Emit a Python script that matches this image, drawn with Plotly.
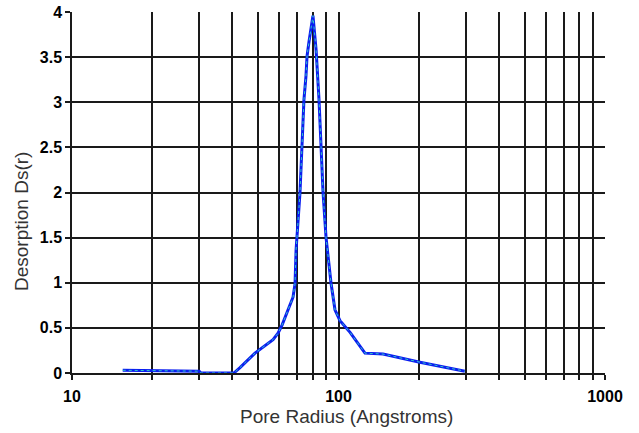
import plotly.graph_objects as go

pore_radius = [15.5, 30, 30.5, 40.5, 42.7, 48.6, 56.8, 59.3, 61.4, 67.5, 68.7, 69.3,
               71.7, 73.0, 74.2, 75.5, 76.2, 77.5, 80.2, 82.4, 83.0, 84.5, 87.5, 89.8,
               93.7, 97, 101.3, 110.5, 125.7, 146.9, 202, 298]
desorption = [0.03, 0.02, 0.0, 0.0, 0.06, 0.22, 0.37, 0.44, 0.53, 0.84, 0.99, 1.36,
              2.0, 2.5, 3.03, 3.29, 3.51, 3.67, 3.96, 3.58, 3.4, 3.03, 2.0, 1.5,
              1.0, 0.7, 0.58, 0.45, 0.22, 0.21, 0.12, 0.02]

x_tick_vals = [10, 20, 30, 40, 50, 60, 70, 80, 90, 100, 200, 300, 400, 500, 600, 700, 800, 900, 1000]
x_tick_text = ["10", "", "", "", "", "", "", "", "", "100", "", "", "", "", "", "", "", "", "1000"]
y_tick_vals = [0, 0.5, 1, 1.5, 2, 2.5, 3, 3.5, 4]
y_tick_text = ["0", "0.5", "1", "1.5", "2", "2.5", "3", "3.5", "4"]

fig = go.Figure()
fig.add_trace(go.Scatter(x=pore_radius, y=desorption, mode="lines",
                         line=dict(color="#0a1ef0", width=3), hoverinfo="skip"))
fig.add_trace(go.Scatter(x=pore_radius, y=desorption, mode="lines",
                         line=dict(color="#30c8c8", width=1, dash="dot"), hoverinfo="skip"))

bold = lambda s: f"<b>{s}</b>" if s else ""
tick_font = dict(family="Liberation Sans, Arial", size=16, color="black")
fig.update_layout(
    width=639, height=433,
    margin=dict(l=72, r=34, t=12, b=60, autoexpand=False),
    paper_bgcolor="white", plot_bgcolor="white",
    showlegend=False,
    xaxis=dict(type="log", range=[1, 3], tickvals=x_tick_vals,
               ticktext=[bold(t) for t in x_tick_text],
               showgrid=True, gridcolor="#1a1a1a", gridwidth=1.5,
               ticks="outside", ticklen=5, tickcolor="#1a1a1a", tickwidth=1.5,
               showline=True, linecolor="#1a1a1a", linewidth=1.5,
               zeroline=False, tickfont=tick_font, ticklabelstandoff=3),
    yaxis=dict(range=[0, 4], tickvals=y_tick_vals,
               ticktext=[bold(t) for t in y_tick_text],
               showgrid=True, gridcolor="#1a1a1a", gridwidth=1.5,
               ticks="outside", ticklen=5, tickcolor="#1a1a1a", tickwidth=1.5,
               showline=True, linecolor="#1a1a1a", linewidth=1.5,
               zeroline=False, tickfont=tick_font, ticklabelstandoff=0),
)
fig.add_annotation(text="Pore Radius (Angstroms)", xref="paper", yref="paper",
                   x=(346 - 72) / 533, y=-(416 - 373) / 361, showarrow=False,
                   font=dict(family="Liberation Sans, Arial", size=19, color="#333333"),
                   xanchor="center", yanchor="middle")
fig.add_annotation(text="Desorption Ds(r)", xref="paper", yref="paper",
                   x=-(72 - 21) / 533, y=(373 - 222) / 361, showarrow=False, textangle=-90,
                   font=dict(family="Liberation Sans, Arial", size=19, color="#333333"),
                   xanchor="center", yanchor="middle")
fig.write_html("out.html")
